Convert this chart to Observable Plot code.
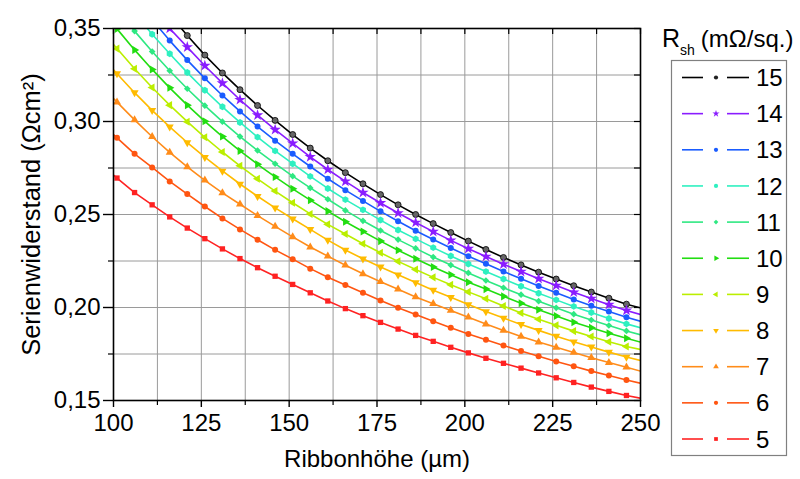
<!DOCTYPE html>
<html><head><meta charset="utf-8">
<script src="https://cdn.jsdelivr.net/npm/d3@7"></script>
<script src="https://cdn.jsdelivr.net/npm/@observablehq/plot@0.6"></script>
<style>
body{margin:0;background:#fff;}
#wrap{position:relative;width:800px;height:479px;font-family:"Liberation Sans",Arial,sans-serif;}
#wrap svg{display:block;}
#legend{position:absolute;left:0;top:0;pointer-events:none;}
</style></head><body><div id="wrap"></div>
<script>
// Ribbon height (µm): line runs 100..250, symbols at 101, 106, ..., 246
const ribbonHeight = [100, 101, 106, 111, 116, 121, 126, 131, 136, 141, 146, 151, 156, 161, 166, 171, 176, 181, 186, 191, 196, 201, 206, 211, 216, 221, 226, 231, 236, 241, 246, 250];

// Series resistance (Ωcm²) per sheet resistance Rsh (mΩ/sq.)
const rs15 = [0.3995, 0.3965, 0.3825, 0.3695, 0.3575, 0.3462, 0.3357, 0.3261, 0.3171, 0.3086, 0.3006, 0.2930, 0.2857, 0.2789, 0.2725, 0.2665, 0.2607, 0.2552, 0.2500, 0.2451, 0.2403, 0.2357, 0.2312, 0.2269, 0.2229, 0.2190, 0.2153, 0.2117, 0.2083, 0.2050, 0.2018, 0.1998];
const rs14 = [0.3884, 0.3857, 0.3731, 0.3612, 0.3500, 0.3400, 0.3300, 0.3206, 0.3117, 0.3034, 0.2956, 0.2883, 0.2810, 0.2742, 0.2678, 0.2618, 0.2562, 0.2508, 0.2457, 0.2408, 0.2361, 0.2316, 0.2274, 0.2233, 0.2193, 0.2155, 0.2118, 0.2082, 0.2048, 0.2015, 0.1984, 0.1962];
const rs13 = [0.3816, 0.3790, 0.3665, 0.3547, 0.3435, 0.3330, 0.3232, 0.3140, 0.3054, 0.2973, 0.2897, 0.2826, 0.2758, 0.2692, 0.2631, 0.2573, 0.2517, 0.2464, 0.2413, 0.2366, 0.2320, 0.2276, 0.2235, 0.2194, 0.2154, 0.2116, 0.2079, 0.2043, 0.2010, 0.1978, 0.1948, 0.1926];
const rs12 = [0.3727, 0.3702, 0.3582, 0.3469, 0.3364, 0.3263, 0.3168, 0.3079, 0.2995, 0.2916, 0.2842, 0.2773, 0.2705, 0.2640, 0.2580, 0.2525, 0.2470, 0.2417, 0.2369, 0.2322, 0.2277, 0.2234, 0.2193, 0.2153, 0.2114, 0.2077, 0.2041, 0.2006, 0.1973, 0.1941, 0.1912, 0.1891];
const rs11 = [0.3627, 0.3603, 0.3486, 0.3376, 0.3273, 0.3176, 0.3085, 0.2999, 0.2919, 0.2844, 0.2773, 0.2706, 0.2643, 0.2582, 0.2522, 0.2466, 0.2414, 0.2365, 0.2318, 0.2271, 0.2228, 0.2186, 0.2145, 0.2106, 0.2069, 0.2034, 0.1998, 0.1964, 0.1933, 0.1903, 0.1874, 0.1853];
const rs10 = [0.3521, 0.3498, 0.3385, 0.3280, 0.3181, 0.3088, 0.3001, 0.2919, 0.2842, 0.2770, 0.2702, 0.2638, 0.2577, 0.2518, 0.2461, 0.2409, 0.2357, 0.2308, 0.2262, 0.2218, 0.2176, 0.2136, 0.2099, 0.2060, 0.2023, 0.1988, 0.1954, 0.1921, 0.1891, 0.1862, 0.1835, 0.1814];
const rs9 = [0.3414, 0.3392, 0.3284, 0.3183, 0.3088, 0.2999, 0.2915, 0.2836, 0.2762, 0.2692, 0.2626, 0.2563, 0.2503, 0.2447, 0.2395, 0.2343, 0.2294, 0.2248, 0.2204, 0.2162, 0.2122, 0.2084, 0.2047, 0.2008, 0.1971, 0.1937, 0.1904, 0.1873, 0.1844, 0.1816, 0.1790, 0.1774];
const rs8 = [0.3278, 0.3257, 0.3155, 0.3060, 0.2971, 0.2887, 0.2808, 0.2734, 0.2664, 0.2598, 0.2536, 0.2477, 0.2420, 0.2362, 0.2309, 0.2262, 0.2218, 0.2176, 0.2134, 0.2093, 0.2055, 0.2016, 0.1978, 0.1943, 0.1909, 0.1877, 0.1846, 0.1816, 0.1788, 0.1760, 0.1734, 0.1715];
const rs7 = [0.3124, 0.3104, 0.3009, 0.2918, 0.2834, 0.2756, 0.2684, 0.2616, 0.2555, 0.2494, 0.2436, 0.2380, 0.2325, 0.2276, 0.2227, 0.2181, 0.2139, 0.2098, 0.2057, 0.2020, 0.1984, 0.1948, 0.1911, 0.1877, 0.1844, 0.1814, 0.1786, 0.1758, 0.1730, 0.1704, 0.1679, 0.1658];
const rs6 = [0.2930, 0.2912, 0.2826, 0.2753, 0.2678, 0.2610, 0.2543, 0.2479, 0.2420, 0.2364, 0.2310, 0.2260, 0.2209, 0.2163, 0.2121, 0.2079, 0.2038, 0.1999, 0.1962, 0.1926, 0.1891, 0.1858, 0.1826, 0.1796, 0.1766, 0.1738, 0.1710, 0.1684, 0.1658, 0.1634, 0.1610, 0.1593];
const rs5 = [0.2712, 0.2696, 0.2618, 0.2552, 0.2487, 0.2427, 0.2370, 0.2315, 0.2263, 0.2214, 0.2168, 0.2124, 0.2079, 0.2035, 0.1994, 0.1956, 0.1920, 0.1884, 0.1850, 0.1818, 0.1786, 0.1756, 0.1727, 0.1700, 0.1674, 0.1648, 0.1622, 0.1597, 0.1572, 0.1549, 0.1527, 0.1512];

const rshValues = [15, 14, 13, 12, 11, 10, 9, 8, 7, 6, 5];
const rsArrays = [rs15, rs14, rs13, rs12, rs11, rs10, rs9, rs8, rs7, rs6, rs5];
const seriesColors = ["#000000", "#8a1cff", "#1a5cff", "#2ef0c0", "#2ee882", "#22dd11", "#bbee00", "#ffbb00", "#ff8c1a", "#ff5511", "#ff2222"];
const seriesSymbols = ["circle", "star", "circle", "hexagon", "diamond2", "triangle", "triangle", "triangle", "triangle", "circle", "square"];
const symbolRotate = [0, 0, 0, 0, 0, 90, -90, 180, 0, 0, 0];

const xMajorTicks = [100, 125, 150, 175, 200, 225, 250];
const xMinorTicks = [112.5, 137.5, 162.5, 187.5, 212.5, 237.5];
const yMajorTicks = [0.15, 0.20, 0.25, 0.30, 0.35];
const yMinorTicks = [0.175, 0.225, 0.275, 0.325];
const xAllTicks = xMajorTicks.concat(xMinorTicks);
const yAllTicks = yMajorTicks.concat(yMinorTicks);

const xTitle = "Ribbonhöhe (µm)";
const yTitle = "Serienwiderstand (Ωcm²)";

const fmtY = d => d.toFixed(2).replace(".", ",");

const series = rshValues.map((rsh, k) => ({
  rsh, color: seriesColors[k], symbol: seriesSymbols[k], rotate: symbolRotate[k],
  rows: ribbonHeight.map((h, i) => ({h, v: rsArrays[k][i], i}))
}));

const W = 800, H = 479, mL = 113, mR = 160, mT = 28, mB = 79;
const frameW = W - mL - mR, frameH = H - mT - mB;

const marks = [
  Plot.gridX(xAllTicks, {stroke: "#9a9a9a", strokeOpacity: 1, strokeWidth: 1}),
  Plot.gridY(yAllTicks, {stroke: "#9a9a9a", strokeOpacity: 1, strokeWidth: 1}),
];
for (const s of series) {
  marks.push(Plot.line(s.rows, {x: "h", y: "v", stroke: s.color, strokeWidth: 1.6, clip: true}));
}
for (const s of series) {
  const isBlack = s.rsh === 15;
  marks.push(Plot.dot(s.rows.filter(d => d.i > 0 && d.i < ribbonHeight.length - 1), {
    x: "h", y: "v", symbol: s.symbol, rotate: s.rotate,
    r: s.symbol === "star" ? 3.6 : 3,
    fill: isBlack ? "#666666" : s.color,
    stroke: isBlack ? "#000000" : "none", strokeWidth: 0.8,
    clip: true
  }));
}
marks.push(
  Plot.tickX(xAllTicks, {x: d => d, stroke: "black", strokeWidth: 1.2, insetBottom: frameH - 6}),
  Plot.tickY(yAllTicks, {y: d => d, stroke: "black", strokeWidth: 1.2, insetLeft: frameW - 6}),
  Plot.frame({stroke: "black", strokeWidth: 1.6}),
  Plot.axisX(xMajorTicks, {anchor: "bottom", tickSize: 7, tickPadding: 6, tickFormat: d => String(d), label: null, strokeWidth: 1.4}),
  Plot.axisX(xMinorTicks, {anchor: "bottom", tickSize: 5, tickFormat: () => "", label: null, strokeWidth: 1.2}),
  Plot.axisY(yMajorTicks, {anchor: "left", tickSize: 10, tickPadding: 3, tickFormat: fmtY, label: null, strokeWidth: 1.4}),
  Plot.axisY(yMinorTicks, {anchor: "left", tickSize: 5, tickFormat: () => "", label: null, strokeWidth: 1.2}),
  Plot.text([xTitle], {text: d => d, frameAnchor: "bottom", textAnchor: "middle", dy: 66, fontSize: 24}),
  Plot.text([yTitle], {text: d => d, frameAnchor: "left", textAnchor: "middle", dx: -82, rotate: -90, fontSize: 25.5})
);

const chart = Plot.plot({
  width: W, height: H,
  marginLeft: mL, marginRight: mR, marginTop: mT, marginBottom: mB,
  x: {domain: [100, 250]},
  y: {domain: [0.15, 0.35]},
  style: {fontFamily: "'Liberation Sans', Arial, sans-serif", fontSize: "24px", color: "black", background: "white", overflow: "visible"},
  marks
});
const wrap = document.getElementById("wrap");
wrap.appendChild(chart);

// Legend overlay
const symMap = {circle: d3.symbolCircle, star: d3.symbolStar, hexagon: d3.symbolCircle, diamond2: d3.symbolDiamond2, triangle: d3.symbolTriangle, square: d3.symbolSquare};
const lg = d3.select(wrap).append("svg").attr("id", "legend").attr("width", W).attr("height", H)
  .style("font-family", "'Liberation Sans', Arial, sans-serif");
const title = lg.append("text").attr("x", 662).attr("y", 47).attr("font-size", 25).attr("fill", "black");
title.append("tspan").text("R");
title.append("tspan").attr("font-size", 14).attr("dy", 8).text("sh");
title.append("tspan").attr("font-size", 24).attr("dy", -8).attr("dx", 6).text("(mΩ/sq.)");
lg.append("rect").attr("x", 671.5).attr("y", 60.5).attr("width", 115).attr("height", 395)
  .attr("fill", "none").attr("stroke", "#808080").attr("stroke-width", 1.2);
series.forEach((s, k) => {
  const cy = 77.5 + k * 36.15;
  const g = lg.append("g");
  g.append("line").attr("x1", 682).attr("x2", 703).attr("y1", cy).attr("y2", cy).attr("stroke", s.color).attr("stroke-width", 1.6);
  g.append("line").attr("x1", 727).attr("x2", 749).attr("y1", cy).attr("y2", cy).attr("stroke", s.color).attr("stroke-width", 1.6);
  g.append("path").attr("d", d3.symbol(symMap[s.symbol], s.symbol === "star" ? 16 : 14)())
    .attr("transform", `translate(716,${cy}) rotate(${s.rotate})`)
    .attr("fill", s.rsh === 15 ? "#222" : s.color);
  g.append("text").attr("x", 756).attr("y", cy).attr("dy", "0.36em").attr("font-size", 24).attr("fill", "black").text(s.rsh);
});
</script>
</body></html>
